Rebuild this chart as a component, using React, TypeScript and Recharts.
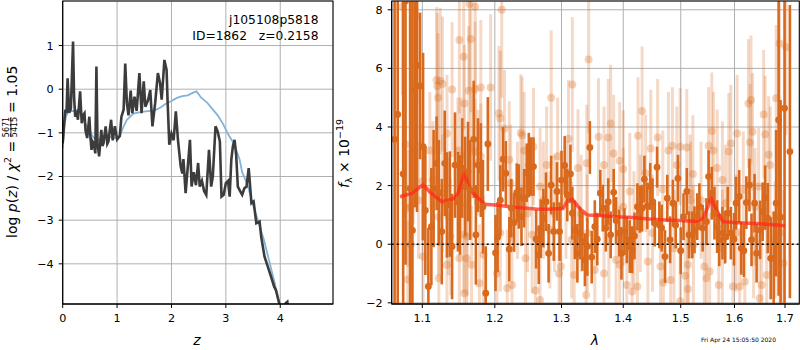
import { CartesianGrid, ComposedChart, ErrorBar, Line, LineChart, ReferenceLine, Scatter, XAxis, YAxis } from 'recharts'

// p(z) panel: log p(z) trace (dark) and smoothed prior-ish curve (blue)
const pzDarkZ = [0, 0.03, 0.05, 0.07, 0.09, 0.12, 0.15, 0.19, 0.21, 0.23, 0.26, 0.28, 0.32, 0.35, 0.37, 0.4, 0.42, 0.45, 0.49, 0.51, 0.53, 0.55, 0.57, 0.6, 0.62, 0.64, 0.67, 0.71, 0.73, 0.75, 0.79, 0.82, 0.84, 0.89, 0.92, 0.96, 1.0, 1.05, 1.08, 1.12, 1.15, 1.18, 1.21, 1.25, 1.28, 1.32, 1.36, 1.41, 1.45, 1.49, 1.52, 1.57, 1.61, 1.65, 1.7, 1.75, 1.79, 1.82, 1.85, 1.87, 1.91, 1.93, 1.96, 2.0, 2.04, 2.08, 2.12, 2.17, 2.2, 2.22, 2.26, 2.29, 2.34, 2.37, 2.41, 2.45, 2.49, 2.52, 2.56, 2.6, 2.64, 2.69, 2.73, 2.76, 2.81, 2.85, 2.89, 2.92, 2.96, 3.0, 3.04, 3.07, 3.1, 3.13, 3.16, 3.19, 3.22, 3.26, 3.3, 3.34, 3.38, 3.42, 3.47, 3.51, 3.56, 3.62, 3.65, 3.71, 3.77, 3.83, 3.89, 3.92, 3.98, 4.04, 4.1, 4.13, 4.18]
const pzDarkLog = [-1.24, -0.75, -0.47, -0.55, 0.25, -0.54, -0.45, 1.09, -0.2, -0.63, -0.55, -0.7, -0.05, -0.78, -0.6, -0.55, -0.95, -1.12, -0.63, -1.1, -1.39, -1.2, -1.24, -1.47, 0.52, -1.24, -1.54, -0.93, -1.3, -1.24, -0.85, -1.25, -1.2, -0.7, -1.17, -0.85, -1.15, -1.07, -0.63, -0.47, 0.59, -0.32, -0.6, -0.03, -0.55, -0.17, -0.5, 0.37, -0.55, 0.18, -0.4, -0.25, -0.02, -0.85, -0.32, 0.37, 0.14, -0.24, 0.3, 0.67, 0.44, -0.32, -1.27, -1.02, -1.17, -0.51, -1.17, -1.77, -1.93, -1.6, -2.38, -1.93, -1.16, -2.23, -1.9, -2.2, -1.69, -2.23, -2.1, -2.33, -2.42, -1.39, -2.23, -2.0, -0.85, -0.97, -1.2, -2.46, -2.42, -2.15, -2.1, -2.46, -1.62, -1.3, -1.16, -1.51, -2.23, -2.33, -2.42, -2.27, -2.23, -1.81, -2.61, -2.57, -3.07, -3.03, -3.38, -3.83, -4.06, -4.29, -4.53, -4.6, -4.9, -5.4, -4.9, -4.87, -5.4]
const pzBlueZ = [0, 0.03, 0.06, 0.1, 0.15, 0.2, 0.25, 0.3, 0.34, 0.4, 0.48, 0.56, 0.66, 0.72, 0.78, 0.87, 1.0, 1.06, 1.12, 1.18, 1.3, 1.45, 1.57, 1.7, 1.8, 1.9, 2.0, 2.1, 2.2, 2.3, 2.4, 2.46, 2.55, 2.65, 2.75, 2.85, 2.95, 3.05, 3.15, 3.25, 3.3, 3.4, 3.5, 3.6, 3.7, 3.8, 3.9, 3.97, 4.02]
const pzBlueLog = [-1.35, -0.85, -0.62, -0.53, -0.5, -0.5, -0.48, -0.52, -0.6, -0.75, -0.93, -1.1, -1.17, -1.1, -1.03, -1.1, -1.12, -1.04, -0.85, -0.7, -0.56, -0.52, -0.5, -0.48, -0.42, -0.33, -0.27, -0.2, -0.16, -0.14, -0.08, -0.05, -0.2, -0.3, -0.45, -0.6, -0.8, -1.05, -1.25, -1.6, -1.9, -2.2, -2.65, -3.05, -3.45, -3.95, -4.45, -4.85, -5.2]

// spectrum panel: solid points, faint points, model
const specWave = [1.064, 1.068, 1.075, 1.078, 1.084, 1.087, 1.09, 1.093, 1.097, 1.101, 1.104, 1.108, 1.112, 1.115, 1.119, 1.122, 1.126, 1.13, 1.133, 1.137, 1.14, 1.144, 1.148, 1.151, 1.154, 1.158, 1.162, 1.165, 1.17, 1.173, 1.176, 1.18, 1.183, 1.187, 1.19, 1.201, 1.204, 1.208, 1.212, 1.216, 1.221, 1.224, 1.228, 1.232, 1.235, 1.239, 1.243, 1.247, 1.25, 1.253, 1.257, 1.261, 1.265, 1.268, 1.272, 1.276, 1.28, 1.284, 1.288, 1.293, 1.297, 1.3, 1.305, 1.309, 1.314, 1.317, 1.321, 1.325, 1.329, 1.333, 1.337, 1.341, 1.345, 1.348, 1.353, 1.357, 1.362, 1.366, 1.371, 1.375, 1.379, 1.384, 1.388, 1.393, 1.397, 1.402, 1.406, 1.411, 1.415, 1.419, 1.424, 1.428, 1.432, 1.436, 1.441, 1.446, 1.45, 1.454, 1.458, 1.462, 1.466, 1.472, 1.476, 1.481, 1.486, 1.491, 1.495, 1.5, 1.505, 1.511, 1.515, 1.521, 1.525, 1.53, 1.534, 1.54, 1.547, 1.551, 1.557, 1.562, 1.567, 1.571, 1.577, 1.582, 1.587, 1.593, 1.599, 1.603, 1.609, 1.613, 1.618, 1.623, 1.629, 1.633, 1.639, 1.643, 1.65, 1.655, 1.66, 1.665, 1.671, 1.677, 1.682, 1.687, 1.691, 1.699, 1.71]
const specFlux = [3.58, 4.43, 2.4, 8.3, 1.9, 0.47, 5.26, 6.1, 5.4, 3.33, 1.15, -1.44, 0.6, 1.9, 2.76, 1.76, 0.43, 2.76, 1.34, 1.37, -0.08, 2.7, 1.45, 1.34, 2.6, 1.97, 2.48, 1.85, 3.58, 0.32, 2.7, 2.53, 1.28, -1.67, 3.42, -0.3, 0.24, 1.5, 2.9, 2.42, -0.17, 1.23, 0.74, 1.76, 1.63, 0.94, 1.57, 2.44, 2.7, 2.65, 2.65, 0.17, -0.36, 0.53, 0.89, 1.45, -0.31, 2.02, 0.43, 1.8, 0.43, 2.19, 2.69, 1.68, 2.4, 1.06, 0.49, -0.31, 0.38, 0.09, -0.53, -0.08, 3.3, -0.44, 0.6, 0.17, 1.74, 1.23, 0.55, 1.45, 0.32, 1.77, 0.81, 0.38, -0.31, 0.43, 0.15, -0.08, -0.19, 0.28, 1.28, 1.19, 1.23, 2.22, 1.31, 1.97, 1.45, 0.72, 2.63, 0.66, 0.55, -0.42, 1.57, 0.15, 1.4, 0.66, 2.25, -0.22, 0.94, 1.8, 0.32, 0.32, 0.49, 0.94, 1.28, 0.55, 0.77, 2.31, 1.74, 1.06, 0.6, 0.15, 0.38, 0.24, 1.06, 0.38, 0.17, 1.4, 1.63, -0.14, -0.22, 1.42, 2.02, 0.15, 1.4, -0.31, 0.49, 1.11, 1.59, 0.89, -0.48, -0.48, 1.4, 4.24, 0.92, 4.64, 3.16]
const specErr = [9, 7, 8, 9, 9, 9, 4, 5, 2.5, 3.2, 2.2, 2, 2, 2, 1.6, 1.8, 1.8, 1.8, 1.8, 1.8, 1.8, 1.8, 1.7, 1.7, 1.7, 1.7, 1.7, 1.7, 2, 1.7, 1.6, 1.6, 1.6, 1.6, 1.6, 1.3, 1.2, 1.2, 1.1, 1.1, 1.1, 1.0, 1.0, 1.0, 1.1, 1.0, 1.0, 1.0, 1.1, 1.0, 1.0, 1.0, 1.0, 1.0, 1.0, 1.0, 1.0, 1.0, 1.0, 1.0, 1.0, 1.0, 1.0, 0.9, 1.0, 0.9, 1.0, 1.0, 0.9, 1.0, 0.9, 1.0, 0.9, 0.9, 0.9, 0.9, 0.8, 0.8, 0.8, 0.8, 0.8, 0.8, 0.8, 0.8, 0.9, 0.8, 0.8, 0.9, 0.8, 0.8, 0.8, 0.8, 0.8, 0.8, 0.8, 0.8, 0.8, 0.8, 0.7, 0.8, 0.8, 0.9, 0.8, 0.8, 0.8, 0.8, 0.8, 0.8, 0.8, 0.8, 0.8, 0.8, 0.8, 0.8, 0.8, 0.8, 0.8, 0.9, 0.9, 0.9, 0.9, 0.9, 0.9, 0.9, 0.9, 0.9, 0.9, 0.9, 0.9, 0.9, 0.9, 0.9, 0.9, 0.9, 1.0, 1.0, 1.0, 1.0, 1.1, 1.2, 1.4, 1.6, 2.5, 6, 4, 8, 5]

const faintWave = [1.074, 1.078, 1.081, 1.081, 1.085, 1.085, 1.088, 1.093, 1.095, 1.1, 1.101, 1.11, 1.114, 1.119, 1.12, 1.121, 1.122, 1.122, 1.124, 1.127, 1.127, 1.133, 1.133, 1.135, 1.138, 1.14, 1.148, 1.15, 1.15, 1.152, 1.156, 1.156, 1.157, 1.157, 1.16, 1.161, 1.163, 1.164, 1.166, 1.166, 1.167, 1.172, 1.172, 1.172, 1.176, 1.178, 1.18, 1.18, 1.184, 1.194, 1.203, 1.206, 1.208, 1.208, 1.21, 1.214, 1.218, 1.221, 1.223, 1.225, 1.233, 1.238, 1.24, 1.243, 1.245, 1.248, 1.255, 1.257, 1.26, 1.267, 1.267, 1.272, 1.277, 1.282, 1.284, 1.289, 1.294, 1.296, 1.299, 1.307, 1.311, 1.316, 1.317, 1.32, 1.326, 1.331, 1.339, 1.34, 1.341, 1.343, 1.353, 1.359, 1.368, 1.368, 1.375, 1.376, 1.379, 1.384, 1.388, 1.394, 1.394, 1.4, 1.4, 1.406, 1.411, 1.415, 1.418, 1.424, 1.425, 1.429, 1.432, 1.438, 1.442, 1.447, 1.45, 1.459, 1.464, 1.468, 1.469, 1.478, 1.482, 1.485, 1.488, 1.493, 1.499, 1.499, 1.508, 1.511, 1.513, 1.513, 1.517, 1.518, 1.522, 1.523, 1.537, 1.543, 1.547, 1.551, 1.553, 1.557, 1.56, 1.567, 1.57, 1.577, 1.577, 1.583, 1.589, 1.593, 1.597, 1.603, 1.605, 1.61, 1.617, 1.62, 1.627, 1.63, 1.632, 1.635, 1.637, 1.64, 1.647, 1.649, 1.653, 1.657, 1.66, 1.663, 1.667, 1.67, 1.68, 1.682, 1.689, 1.69, 1.697, 1.702]
const faintFlux = [8.1, 3.4, 1.23, -1.2, 1.28, -0.02, 3.2, 7.8, 1.5, 2.14, -0.42, 3.2, 2.2, 5.6, 5.4, 5.0, 0.94, -1.16, 5.57, 5.47, 1.74, 3.78, -0.7, 0.94, 0.26, 5.28, 3.2, 6.97, -0.48, 3.0, 6.4, 0.32, 4.8, -1.67, -0.48, 0.26, 5.24, 8.2, 7.0, 3.33, -0.7, 8.1, 5.3, 3.16, 2.78, -1.33, 5.35, 3.0, -0.36, 5.35, -1.0, 4.47, 4.3, 0.38, 8.0, 3.95, -1.5, 2.88, 2.08, -1.39, 1.5, 3.8, 3.72, 3.2, -0.48, 1.05, 0.32, 3.33, -1.58, 1.97, -1.9, 1.5, 2.7, 0.49, 5.0, 1.05, 3.0, -1.0, -0.76, 1.5, 3.6, 0.15, 5.45, -1.05, 2.6, 1.05, -1.73, 2.76, 0.38, 6.3, -0.88, 3.67, 2.7, -1.0, 3.64, 0.15, 4.12, 3.1, -0.53, 2.85, -0.7, 2.57, 1.28, -1.39, 1.8, -1.61, 0.49, -1.44, 3.7, 1.05, 4.55, 2.42, -0.59, 3.27, 0.38, 3.64, -0.76, 1.88, -1.31, 3.2, -1.22, 3.36, -0.14, 2.7, 3.33, -1.95, -1.08, 3.3, -1.53, -0.7, 1.74, 1.5, 2.4, -0.02, 1.5, -0.76, -1.16, 3.36, -0.93, 3.86, 3.2, 2.6, -1.39, 2.19, -0.14, 1.4, 3.16, 3.44, -1.44, 0.38, 3.78, -1.44, 1.85, -1.27, 4.8, 3.47, 4.92, 3.84, 0.15, 1.28, 1.97, -1.84, -1.39, 4.43, 3.75, -1.05, 3.05, 2.7, 0.15, 4.98, 6.85, 0.38, -0.65, 6.72]
const faintErr = [3, 2.5, 2, 2, 2, 2.5, 2.5, 3, 2, 2, 2, 2, 2, 2.5, 2.5, 2.2, 2, 2, 2.5, 2.3, 2, 2, 2, 2, 2, 2.3, 1.8, 2.5, 2, 2, 2.5, 2, 2, 2, 2, 2, 2.2, 3, 2.5, 1.8, 2, 3, 2.3, 1.8, 1.8, 2, 2.3, 1.8, 2, 2.5, 2, 2.3, 2.3, 2, 3, 2, 2, 2, 2, 2, 2, 2, 2, 2, 2, 2, 2, 2, 2, 2, 2, 2, 2, 2, 2.3, 2, 2, 2, 2, 2, 2, 2, 2.3, 2, 2, 2, 2, 2, 2, 2.5, 2, 2, 2, 2, 2, 2, 2, 2, 2, 2, 2, 2, 2, 2, 2, 2, 2, 2, 2, 2, 2.2, 2, 2, 2, 2, 2, 2, 2, 2, 2, 2, 2, 2, 2, 2, 2, 2, 2, 2, 2, 2, 2, 2, 2, 2, 2, 2, 2, 2, 2, 2, 2, 2, 2, 2, 2, 2, 2, 2, 2, 2, 2, 2, 2, 2.2, 2, 2.2, 2, 2, 2, 2, 2, 2, 2.2, 2, 2, 2, 2, 2, 2.5, 3, 3, 2.5, 3]

const modelWave = [1.071, 1.086, 1.101, 1.11, 1.126, 1.142, 1.148, 1.157, 1.165, 1.175, 1.186, 1.205, 1.23, 1.26, 1.28, 1.302, 1.31, 1.317, 1.33, 1.341, 1.36, 1.388, 1.416, 1.444, 1.473, 1.5, 1.527, 1.541, 1.55, 1.556, 1.564, 1.578, 1.6, 1.659, 1.7]
const modelFlux = [1.62, 1.73, 2.03, 1.78, 1.45, 1.55, 1.73, 2.42, 1.84, 1.6, 1.36, 1.33, 1.26, 1.2, 1.19, 1.22, 1.5, 1.53, 1.19, 1.0, 0.98, 0.94, 0.91, 0.86, 0.83, 0.81, 0.78, 0.88, 1.28, 1.58, 1.22, 0.77, 0.74, 0.69, 0.63]

const pzTicksX = [0, 1, 2, 3, 4]
const pzTicksY = [-4, -3, -2, -1, 0, 1]
const waveTicks = [1.1, 1.2, 1.3, 1.4, 1.5, 1.6, 1.7]
const fluxTicks = [-2, 0, 2, 4, 6, 8]

const FLUX_MIN = -2.04
const FLUX_MAX = 8.3

// error bars are cut at the visible flux range, like the axes clip them
const clipErr = (y: number, e: number) => [y - Math.max(y - e, FLUX_MIN), Math.min(y + e, FLUX_MAX) - y]

const pzDark = pzDarkZ.map((z, i) => ({ z, v: pzDarkLog[i] }))
const pzBlue = pzBlueZ.map((z, i) => ({ z, v: pzBlueLog[i] }))
const spec = specWave.map((x, i) => ({ x, y: specFlux[i], e: clipErr(specFlux[i], specErr[i]) }))
const faint = faintWave.map((x, i) => ({ x, y: faintFlux[i], e: clipErr(faintFlux[i], faintErr[i]) }))
const model = modelWave.map((x, i) => ({ x, y: modelFlux[i] }))

const FONT = 'DejaVu Sans'
const ORANGE = '#d9691c'
const tickStyle = { fill: '#000', fontSize: 11.2, fontFamily: FONT }
const minus = (v: number) => (v < 0 ? `\u2212${Math.abs(v)}` : `${v}`)

const SolidDot = (p: any) => <circle cx={p.cx} cy={p.cy} r={3.4} fill={ORANGE} />
const FaintDot = (p: any) => <circle cx={p.cx} cy={p.cy} r={4} fill={ORANGE} fillOpacity={0.3} />

function PzPanel() {
  return (
    <LineChart width={340} height={350} margin={{ top: 1, right: 7, bottom: 16, left: 12.7 }}>
      <CartesianGrid stroke='#b0b0b0' strokeWidth={1} />
      <XAxis dataKey='z' type='number' domain={[0, 4.97]} ticks={pzTicksX} allowDataOverflow
        height={30} tick={tickStyle} tickSize={4} tickMargin={6} tickLine={{ stroke: '#000' }} axisLine={{ stroke: '#000' }} />
      <YAxis type='number' domain={[-4.92, 2.02]} ticks={pzTicksY} allowDataOverflow width={50}
        tick={tickStyle} tickSize={4} tickMargin={5} tickFormatter={minus} tickLine={{ stroke: '#000' }} axisLine={{ stroke: '#000' }} />
      <Line data={pzBlue} dataKey='v' stroke='#84b3d9' strokeWidth={1.8} dot={false} isAnimationActive={false} />
      <Line data={pzDark} dataKey='v' stroke='#3c3c3c' strokeWidth={2.6} dot={false} isAnimationActive={false} />
    </LineChart>
  )
}

function SpecPanel() {
  return (
    <ComposedChart width={460} height={350} margin={{ top: 1, right: 0.7, bottom: 16, left: 1.7 }}>
      <CartesianGrid stroke='#b0b0b0' strokeWidth={1} />
      <XAxis dataKey='x' type='number' scale='log' domain={[1.0603, 1.7294]} ticks={waveTicks} allowDataOverflow
        height={30} tick={tickStyle} tickSize={4} tickMargin={6} tickFormatter={(v: number) => v.toFixed(1)}
        tickLine={{ stroke: '#000' }} axisLine={{ stroke: '#000' }} />
      <YAxis dataKey='y' type='number' domain={[FLUX_MIN, FLUX_MAX]} ticks={fluxTicks} allowDataOverflow width={50}
        tick={tickStyle} tickSize={4} tickMargin={5} tickFormatter={minus} tickLine={{ stroke: '#000' }} axisLine={{ stroke: '#000' }} />
      <Scatter data={faint} dataKey='y' shape={FaintDot} isAnimationActive={false}>
        <ErrorBar dataKey='e' direction='y' width={0} stroke={ORANGE} strokeOpacity={0.25} strokeWidth={3} />
      </Scatter>
      <Scatter data={spec} dataKey='y' shape={SolidDot} isAnimationActive={false}>
        <ErrorBar dataKey='e' direction='y' width={0} stroke={ORANGE} strokeWidth={2.6} />
      </Scatter>
      <Line data={model} dataKey='y' stroke='#ff2a1a' strokeOpacity={0.75} strokeWidth={3.5} dot={false} isAnimationActive={false} />
      <ReferenceLine y={0} stroke='#000' strokeWidth={1.6} strokeDasharray='2 3' />
    </ComposedChart>
  )
}

export default function App() {
  return (
    <div style={{ position: 'absolute', left: 0, top: 0, width: 800, height: 350, background: '#fff' }}>
      <div style={{ position: 'absolute', left: 0, top: 0 }}><PzPanel /></div>
      <div style={{ position: 'absolute', left: 340, top: 0 }}><SpecPanel /></div>
      <svg width={800} height={350} style={{ position: 'absolute', left: 0, top: 0, pointerEvents: 'none' }} fontFamily={FONT}>
        <rect x={62.7} y={1} width={270.3} height={303} fill='none' stroke='#000' strokeWidth={1} />
        <rect x={391.7} y={1} width={407.6} height={303} fill='none' stroke='#000' strokeWidth={1} />
        <text x={318.5} y={24} fontSize={12.3} textAnchor='end'>j105108p5818</text>
        <text x={318.5} y={39.5} fontSize={12.3} textAnchor='end' style={{ whiteSpace: 'pre' }}>ID=1862   z=0.2158</text>
        <text x={197} y={345} fontSize={14} textAnchor='middle' fontStyle='italic'>z</text>
        <text x={595} y={345} fontSize={14} textAnchor='middle' fontStyle='italic'>λ</text>
        <g transform='translate(16.5,238) rotate(-90)'>
          <text x={0} y={0} fontSize={14}>
            log <tspan fontStyle='italic'>p</tspan>(<tspan fontStyle='italic'>z</tspan>) / <tspan fontStyle='italic'>χ</tspan>
            <tspan fontSize={9.5} dy={-5.5}>2</tspan><tspan dy={5.5}> =</tspan>
          </text>
          <text x={111} y={-7.3} fontSize={8} textAnchor='middle'>5671</text>
          <line x1={101} x2={121} y1={-5.6} y2={-5.6} stroke='#000' strokeWidth={0.8} />
          <text x={111} y={0.5} fontSize={8} textAnchor='middle'>5415</text>
          <text x={125} y={0} fontSize={14} style={{ whiteSpace: 'pre' }}>= 1.05</text>
        </g>
        <g transform='translate(348.5,188) rotate(-90)'>
          <text x={0} y={0} fontSize={14}>
            <tspan fontStyle='italic'>f</tspan><tspan fontSize={9.5} dy={3}>λ</tspan>
            <tspan dy={-3}> × 10</tspan><tspan fontSize={9.5} dy={-6}>−19</tspan>
          </text>
        </g>
        <text x={701} y={342} fontSize={6}>Fri Apr 24 15:05:50 2020</text>
      </svg>
    </div>
  )
}
